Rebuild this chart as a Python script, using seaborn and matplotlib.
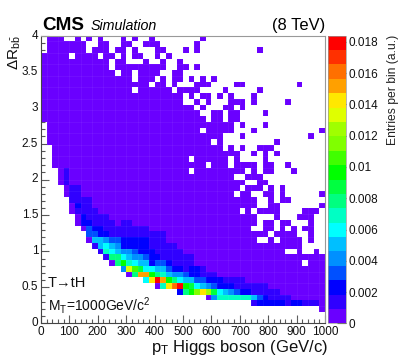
import numpy as np
import matplotlib
matplotlib.use("Agg")
import matplotlib.pyplot as plt
from matplotlib.colors import ListedColormap
import seaborn as sns

# one char per bin, top row first: . = empty, else colour band (base 20)
rows = [
    ".000..0.0. 0...0.0..0 ........0",
    ".0000000.. 00..00..00 0......0",
    ".0000000.0 00.00.0... 00...0.0.. ........0",
    "00000.0000 .00.0.00.. 0.0",
    "0000000000 00.00...0. .0..0",
    "0000000000 00.0000000 00..00.0",
    "0000000000 000.00.000 0..00",
    "0000000000 000000.000 .0.00.0.0. 0",
    "0000000000 000000000. 00.0...000 ....00.... .....0",
    "0000000000 000000.000 000.0000.. ..0.....0",
    "0000000000 0000000000 00000.0.00 .0.0...0",
    "0000000000 0000000000 00000..0.0 ...000.0.. ...0",
    "0000000000 0000000000 0000000.0. ..00.0",
    "0000000000 0000000000 00000000.. 00.00....0",
    "0000000000 0000000000 000000000. 00.00",
    ".000000000 0000000000 0000000000 0000.0...0",
    ".000000000 0000000000 00000000.0 0000...0.. .........0",
    ".000000000 0000000000 0000000000 00...0.... .......0",
    ".000000000 0000000000 0000000000 .0........ .0",
    "..00000000 0000000000 0000000000 00.0.0..00 0",
    "..00000000 0000000000 0000000000 00000..0.0 .0",
    "..00000000 0000000000 000000.000 000.0....0",
    "..00000000 0000000000 000000000. 000.0000.0 0..0",
    "...0100000 0000000000 000000.000 000000.0.0 0...0",
    "...0100000 0000000000 0000000000 0000..000",
    "...0100000 0000000000 0000000000 000000..00",
    "....011000 0000000000 0000000000 00000.000. 0.0",
    "....011000 0000000000 0000000000 0000.00..0 0.0......0",
    ".....11110 0000000000 0000000000 00000000.. 0.00",
    ".....02110 0000000000 0000000000 00000000.. 00.......0",
    ".....01111 0000000000 0000000000 00000.0.00 00....000",
    "......0211 1100000000 0000000000 00000000.. .0...000",
    "......0221 1110110000 0000000000 00000000.0 0.00...0",
    ".......032 2111111110 0000000000 0000000..0 0.0.0.00",
    "........33 2211111111 1100000000 0000000000 .0000..0",
    "........05 5433222221 1100000000 00000000.. 0.0000.0",
    ".........1 5654222221 1111000000 0000000000 000000",
    ".......... 1765443222 1111100000 0000000000 000..0..0",
    ".......... .188654432 2111111000 0000000000 0000000000",
    ".......... ..08a76552 3321111000 0000000000 000000.000",
    ".......... ....4eb966 5532212210 0000000000 0000000000",
    ".......... .....08gga 8754432211 1000000000 0000000000",
    ".......... ........6f jga8655332 2211110000 0000000000",
    ".......... .......... 07fhja9654 3222111111 0000000000",
    ".......... .......... ....28acfd 9654322111 1100000000",
    ".......... .......... .........0 4777777532 1111000000",
    ".......... .......... .......... .......122 2221221110",
    ".......... .......... .......... .......... .........0",
    "",
    "",
]
band_width = 0.00092
band_colors = ["#6a00ff", "#3000ff", "#0000ff", "#0050ff", "#0090ff",
               "#00bfff", "#00ffff", "#00ffc4", "#00ff80", "#00ff40",
               "#00ff00", "#40ff00", "#80ff00", "#a0ff00", "#dfff00",
               "#ffe800", "#ffa000", "#ff7000", "#ff3000", "#ff0000"]
x_ticks = [0, 100, 200, 300, 400, 500, 600, 700, 800, 900, 1000]
y_ticks = [0, 0.5, 1, 1.5, 2, 2.5, 3, 3.5, 4]
y_labels = ["0", "0.5", "1", "1.5", "2", "2.5", "3", "3.5", "4"]
cbar_ticks = [0, 0.002, 0.004, 0.006, 0.008, 0.01, 0.012, 0.014, 0.016, 0.018]
cbar_labels = ["0", "0.002", "0.004", "0.006", "0.008", "0.01", "0.012", "0.014", "0.016", "0.018"]

sns.set_theme(style="white")
plt.rcParams["font.family"] = ["Liberation Sans", "DejaVu Sans"]
plt.rcParams["mathtext.fontset"] = "custom"
plt.rcParams["mathtext.rm"] = "Liberation Sans"
plt.rcParams["mathtext.it"] = "Liberation Sans"
plt.rcParams["mathtext.bf"] = "Liberation Sans:bold"

grid = np.full((50, 50), np.nan)
for i, row in enumerate(rows):
    row = row.replace(" ", "").ljust(50, ".")
    for j, c in enumerate(row[:50]):
        if c != ".":
            grid[i, j] = (int(c, 20) + 0.5) * band_width

W, H = 407, 360
fig = plt.figure(figsize=(W / 100, H / 100), dpi=100, facecolor="white")
ax = fig.add_axes([41 / W, 1 - 323.3 / H, 284 / W, 287.6 / H])
cax = fig.add_axes([327.5 / W, 1 - 323.3 / H, 18 / W, 287.6 / H])

sns.heatmap(grid, ax=ax, cbar_ax=cax, cmap=ListedColormap(band_colors),
            vmin=0, vmax=20 * band_width, mask=np.isnan(grid))

# the faint lighter lines over the filled bins, white so they vanish on empty ones
ax.vlines(np.arange(1, 50, 2), 0, 50, color="white", alpha=0.07, lw=0.5)
ax.hlines(np.arange(1, 50, 2), 0, 50, color="white", alpha=0.07, lw=0.5)

# axis ticks in bin units, heatmap has one unit per bin
ax.set_xticks([v / 20 for v in x_ticks])
ax.set_xticklabels(x_ticks, rotation=0, fontsize=8.5)
ax.set_yticks([(4 - v) / 0.08 for v in y_ticks])
ax.set_yticklabels(y_labels, rotation=0, fontsize=8.5)
ax.set_xticks(np.arange(0, 50.1, 1), minor=True)
ax.set_yticks(np.arange(0, 50.1, 1.25), minor=True)
ax.tick_params(which="major", direction="in", length=6, width=0.8, color="#555555",
               left=True, bottom=True, pad=2, labelcolor="#111111")
ax.tick_params(which="minor", direction="in", length=3, width=0.8, color="#555555",
               left=True, bottom=True)
for name, spine in ax.spines.items():
    spine.set_visible(True)
    spine.set_linewidth(0.8)
    spine.set_color("#444444" if name in ("left", "bottom") else "#999999")

ax.set_xlabel("p$_{T}$ Higgs boson (GeV/c)", fontsize=12, ha="right", color="#111111")
ax.xaxis.set_label_coords(1.01, -0.052)
ax.set_ylabel(r"$\Delta$R$_{b\bar{b}}$", fontsize=11, ha="right", color="#111111")
ax.yaxis.set_label_coords(-0.062, 1.0)

cb = ax.collections[0].colorbar
cb.set_ticks(cbar_ticks)
cb.set_ticklabels(cbar_labels)
cax.tick_params(direction="in", length=6.5, width=0.8, color="#222222", labelsize=8.5,
                right=True, pad=2.5, labelcolor="#111111")
cb.outline.set_linewidth(0.5)
cb.outline.set_edgecolor("#999999")
fig.text(393 / W, 1 - 35 / H, "Entries per bin (a.u.)", rotation=90, fontsize=8.7,
         ha="center", va="top", color="#222222")

fig.text(42 / W, 1 - 30 / H, "CMS", fontsize=13.6, fontweight="bold", color="black")
fig.text(91 / W, 1 - 30 / H, "Simulation", fontsize=10.3, style="italic", color="black")
fig.text(325 / W, 1 - 30 / H, "(8 TeV)", fontsize=11.9, ha="right", color="black")
fig.text(48 / W, 1 - 287 / H, "T→tH", fontsize=10.5, color="#111111")
fig.text(48 / W, 1 - 311 / H, "M$_{T}$=1000GeV/c$^{2}$", fontsize=10, color="#111111")

fig.savefig("out.png", dpi=100)
